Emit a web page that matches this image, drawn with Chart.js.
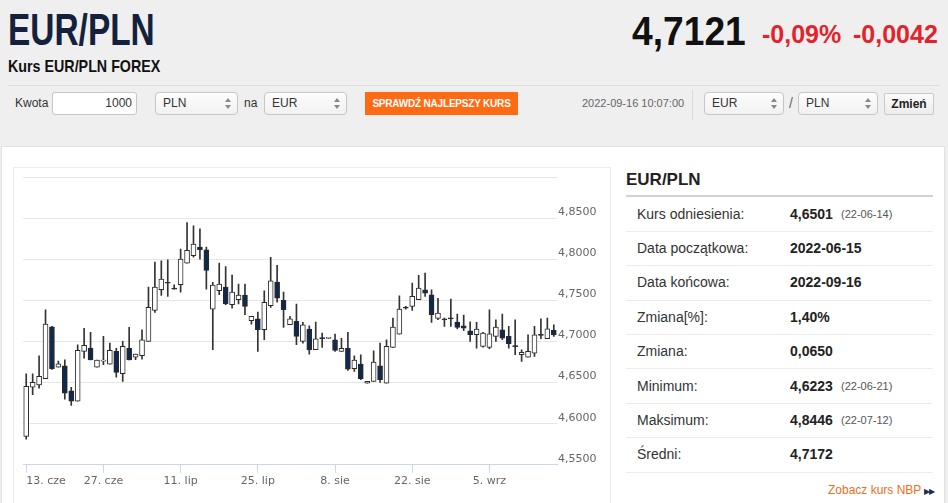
<!DOCTYPE html>
<html lang="pl">
<head>
<meta charset="UTF-8">
<title>EUR/PLN</title>
<script src="https://cdn.jsdelivr.net/npm/chart.js"></script>
<style>
    html, body { margin: 0; padding: 0; }
    body {
        width: 948px; height: 503px; overflow: hidden; position: relative;
        background: #efefef; color: #333;
        font-family: "Liberation Sans", Arial, sans-serif;
    }
    .abs { position: absolute; white-space: nowrap; }
    .cond { transform-origin: 0 50%; display: inline-block; }

    /* form row */
    .box { position: absolute; top: 92px; height: 23px; box-sizing: border-box; font-size: 12px; line-height: 21px; }
    .sel { border: 1px solid #c6c6c6; border-radius: 4px; background: linear-gradient(#fdfdfd, #f1f1f1); padding-left: 7px; }
    .sel .arr { position: absolute; right: 6px; top: 5px; width: 6px; height: 11px; }
    .sel .arr::before, .sel .arr::after { content: ''; position: absolute; left: 0; border-left: 3px solid transparent; border-right: 3px solid transparent; }
    .sel .arr::before { top: 0; border-bottom: 4px solid #888; }
    .sel .arr::after { top: 7px; border-top: 4px solid #888; }

    /* right table */
    .row { position: absolute; left: 626px; width: 307px; height: 34.4px; border-bottom: 1px solid #ececec; box-sizing: border-box; font-size: 14px; line-height: 33px; }
    .row .lab { position: absolute; left: 11px; color: #333; }
    .row .val { position: absolute; left: 164px; font-weight: bold; color: #222; }
    .row .dt { position: absolute; left: 215px; font-size: 11px; color: #555; }

    #chartBox { position: absolute; left: 14px; top: 168px; width: 596px; height: 335px; }
</style>
</head>
<body>
    <!-- header -->
    <div class="abs" style="left:8px;top:8px;font-size:44px;line-height:44px;font-weight:bold;color:#13213d;">
        <span class="cond" style="transform:scaleX(0.76)">EUR/PLN</span>
    </div>
    <div class="abs" style="left:8px;top:58px;font-size:17px;line-height:17px;font-weight:bold;color:#111;">
        <span class="cond" style="transform:scaleX(0.84)">Kurs EUR/PLN FOREX</span>
    </div>
    <div class="abs" style="left:632px;top:11px;font-size:40px;line-height:40px;font-weight:bold;color:#111;">
        <span class="cond" style="transform:scaleX(0.93)">4,7121</span>
    </div>
    <div class="abs" style="left:762px;top:22px;font-size:25px;line-height:25px;font-weight:bold;color:#e3232c;">-0,09%</div>
    <div class="abs" style="left:853px;top:22px;font-size:25px;line-height:25px;font-weight:bold;color:#e3232c;">-0,0042</div>
    <div class="abs" style="left:8px;top:85px;width:932px;height:1px;background:#dcdcdc;"></div>

    <!-- form row -->
    <div class="box" style="left:15px;line-height:23px;">Kwota</div>
    <div class="box" style="left:52px;width:85px;border:1px solid #c6c6c6;border-radius:3px;background:#fff;text-align:right;padding-right:4px;">1000</div>
    <div class="box sel" style="left:155px;width:83px;">PLN<span class="arr"></span></div>
    <div class="box" style="left:244px;line-height:23px;">na</div>
    <div class="box sel" style="left:264px;width:83px;">EUR<span class="arr"></span></div>
    <div class="box" style="left:365px;width:153px;background:#ff6a13;color:#fff;font-size:10px;font-weight:bold;text-align:center;line-height:23px;letter-spacing:-0.2px;">SPRAWDŹ NAJLEPSZY KURS</div>
    <div class="box" style="left:582px;font-size:11px;color:#666;line-height:23px;">2022-09-16 10:07:00</div>
    <div class="abs" style="left:692px;top:90px;width:1px;height:30px;background:#d8d8d8;"></div>
    <div class="box sel" style="left:704px;width:80px;">EUR<span class="arr"></span></div>
    <div class="box" style="left:789px;font-size:14px;color:#666;line-height:23px;">/</div>
    <div class="box sel" style="left:798px;width:80px;">PLN<span class="arr"></span></div>
    <div class="box" style="left:884px;top:93px;width:50px;height:22px;border:1px solid #c9c9c9;border-radius:2px;background:linear-gradient(#fbfbfb,#ececec);font-weight:bold;color:#222;text-align:center;line-height:20px;">Zmień</div>

    <!-- white panel -->
    <div class="abs" style="left:1px;top:146px;width:944px;height:400px;background:#fff;border:1px solid #e2e2e2;box-sizing:border-box;"></div>
    <div class="abs" style="left:13px;top:167px;width:598px;height:400px;border:1px solid #ececec;box-sizing:border-box;"></div>

    <div id="chartBox"><canvas id="candles"></canvas></div>

    <!-- right table -->
    <div class="abs" style="left:626px;top:171px;font-size:17px;line-height:17px;font-weight:bold;color:#222;">EUR/PLN</div>
    <div class="abs" style="left:626px;top:195px;width:307px;height:2px;background:#d2d2d2;"></div>
    <div class="row" style="top:197.5px;"><span class="lab">Kurs odniesienia:</span><span class="val">4,6501</span><span class="dt">(22-06-14)</span></div>
    <div class="row" style="top:231.9px;"><span class="lab">Data początkowa:</span><span class="val">2022-06-15</span></div>
    <div class="row" style="top:266.3px;"><span class="lab">Data końcowa:</span><span class="val">2022-09-16</span></div>
    <div class="row" style="top:300.7px;"><span class="lab">Zmiana[%]:</span><span class="val">1,40%</span></div>
    <div class="row" style="top:335.1px;"><span class="lab">Zmiana:</span><span class="val">0,0650</span></div>
    <div class="row" style="top:369.5px;"><span class="lab">Minimum:</span><span class="val">4,6223</span><span class="dt">(22-06-21)</span></div>
    <div class="row" style="top:403.9px;"><span class="lab">Maksimum:</span><span class="val">4,8446</span><span class="dt">(22-07-12)</span></div>
    <div class="row" style="top:438.3px;"><span class="lab">Średni:</span><span class="val">4,7172</span></div>
    <div class="abs" style="left:828px;top:483px;font-size:12px;line-height:14px;color:#f26c22;">Zobacz kurs NBP <span style="font-size:8px;color:#1b2b4b;letter-spacing:-1px;">▶▶</span></div>

<script>
    // x axis: one candle per day, a label every two weeks
    var tickLabels = ['13. cze', '27. cze', '11. lip', '25. lip', '8. sie', '22. sie', '5. wrz'];
    var tickStep = 12;

    // daily OHLC
    var opens = [
        4.5844, 4.6445, 4.6470, 4.6547, 4.7179, 4.6688, 4.6705, 4.6401, 4.6275, 4.6879,
        4.6919, 4.6688, 4.6761, 4.6725, 4.6879, 4.6607, 4.6919, 4.6810, 4.6826, 4.7001,
        4.7377, 4.7629, 4.7712, 4.7649, 4.7690, 4.7953, 4.8042, 4.8148, 4.8115, 4.7394,
        4.7617, 4.7661, 4.7446, 4.7507, 4.7564, 4.7252, 4.7276, 4.7142, 4.7434, 4.7722,
        4.7499, 4.7203, 4.7244, 4.7001, 4.7151, 4.6899, 4.7039, 4.7037, 4.7021, 4.6879,
        4.6915, 4.6668, 4.6725, 4.6494, 4.6514, 4.6705, 4.6494, 4.6928, 4.7090, 4.7418,
        4.7426, 4.7507, 4.7629, 4.7568, 4.7280, 4.7276, 4.7278, 4.7236, 4.7191, 4.7130,
        4.7082, 4.6940, 4.6928, 4.7061, 4.7142, 4.7061, 4.6942, 4.6838, 4.6810, 4.6859,
        4.7076, 4.7033, 4.7134
    ];
    var highs = [
        4.6607, 4.6607, 4.6826, 4.7386, 4.7185, 4.6761, 4.6778, 4.6441, 4.6960, 4.7159,
        4.7110, 4.6774, 4.7061, 4.6980, 4.6915, 4.7001, 4.7171, 4.6846, 4.7142, 4.7661,
        4.7965, 4.7981, 4.7994, 4.7690, 4.8123, 4.8446, 4.8407, 4.8370, 4.8148, 4.7718,
        4.7953, 4.7912, 4.7807, 4.7698, 4.7698, 4.7305, 4.7357, 4.7617, 4.8022, 4.7925,
        4.7600, 4.7305, 4.7454, 4.7232, 4.7191, 4.7236, 4.7102, 4.7040, 4.7090, 4.7037,
        4.7110, 4.6826, 4.6838, 4.6514, 4.6887, 4.6980, 4.7021, 4.7284, 4.7556, 4.7426,
        4.7710, 4.7803, 4.7831, 4.7629, 4.7523, 4.7284, 4.7515, 4.7333, 4.7321, 4.7240,
        4.7232, 4.7110, 4.7386, 4.7264, 4.7333, 4.7183, 4.7264, 4.6899, 4.7082, 4.7183,
        4.7276, 4.7284, 4.7203
    ];
    var lows = [
        4.5813, 4.6352, 4.6433, 4.6547, 4.6660, 4.6688, 4.6299, 4.6223, 4.6275, 4.6798,
        4.6774, 4.6688, 4.6717, 4.6725, 4.6567, 4.6514, 4.6774, 4.6778, 4.6786, 4.7001,
        4.7353, 4.7560, 4.7548, 4.7637, 4.7600, 4.7953, 4.8026, 4.8002, 4.7637, 4.6899,
        4.7568, 4.7446, 4.7406, 4.7458, 4.7325, 4.7211, 4.6879, 4.7021, 4.7414, 4.7479,
        4.7171, 4.7203, 4.6960, 4.6980, 4.6846, 4.6899, 4.6928, 4.7034, 4.6879, 4.6879,
        4.6648, 4.6636, 4.6534, 4.6494, 4.6514, 4.6502, 4.6494, 4.6928, 4.7090, 4.7394,
        4.7377, 4.7507, 4.7548, 4.7232, 4.7264, 4.7183, 4.7183, 4.7151, 4.7130, 4.7001,
        4.6919, 4.6932, 4.6911, 4.7001, 4.7021, 4.6919, 4.6838, 4.6757, 4.6810, 4.6818,
        4.7033, 4.7033, 4.7061
    ];
    var closes = [
        4.6453, 4.6502, 4.6575, 4.7211, 4.6668, 4.6729, 4.6372, 4.6275, 4.6891, 4.6952,
        4.6774, 4.6774, 4.6765, 4.6891, 4.6624, 4.6940, 4.6774, 4.6846, 4.7021, 4.7414,
        4.7661, 4.7758, 4.7708, 4.7637, 4.8002, 4.8107, 4.8184, 4.8115, 4.7864, 4.7685,
        4.7698, 4.7458, 4.7600, 4.7564, 4.7426, 4.7305, 4.7142, 4.7475, 4.7738, 4.7527,
        4.7386, 4.7276, 4.7061, 4.7203, 4.6899, 4.7033, 4.7035, 4.7037, 4.6891, 4.6915,
        4.6664, 4.6774, 4.6547, 4.6514, 4.6749, 4.6534, 4.6940, 4.7175, 4.7394, 4.7406,
        4.7548, 4.7649, 4.7588, 4.7325, 4.7345, 4.7264, 4.7274, 4.7171, 4.7163, 4.7082,
        4.7151, 4.7102, 4.7094, 4.7175, 4.7041, 4.6972, 4.6938, 4.6867, 4.6879, 4.7082,
        4.7074, 4.7155, 4.7078
    ];

    var upColor = '#ffffff';
    var downColor = '#10294a';

    var categories = opens.map(function (o, i) {
        return i % tickStep === 0 ? tickLabels[i / tickStep] : '';
    });

    var ctx = document.getElementById('candles').getContext('2d');
    var candleChart = new Chart(ctx, {
        type: 'bar',
        data: {
            labels: categories,
            datasets: [{
                // candle bodies, open -> close
                label: 'body',
                data: opens.map(function (o, i) { return [o, closes[i]]; }),
                backgroundColor: opens.map(function (o, i) { return closes[i] >= o ? upColor : downColor; }),
                borderColor: '#2a2a2a',
                borderWidth: 1,
                borderSkipped: false,
                barThickness: 5,
                minBarLength: 1,
                grouped: false,
                order: 0
            }, {
                // wicks, low -> high
                label: 'wick',
                data: lows.map(function (l, i) { return [l, highs[i]]; }),
                backgroundColor: '#333333',
                borderWidth: 0,
                barThickness: 1,
                grouped: false,
                order: 1
            }]
        },
        options: {
            responsive: true,
            maintainAspectRatio: false,
            animation: false,
            layout: { padding: { left: 9, top: 9, right: 0, bottom: 13 } },
            plugins: {
                legend: { display: false },
                tooltip: { enabled: false }
            },
            scales: {
                x: {
                    offset: true,
                    grid: {
                        offset: false,
                        drawOnChartArea: false,
                        tickLength: 8,
                        color: function (c) { return c.index % tickStep === 0 ? '#ccd6eb' : 'rgba(0,0,0,0)'; }
                    },
                    border: { color: '#ccd6eb' },
                    ticks: {
                        autoSkip: false,
                        maxRotation: 0,
                        align: 'inner',
                        padding: 2,
                        color: '#666',
                        font: { family: 'DejaVu Sans', size: 11 }
                    }
                },
                y: {
                    position: 'right',
                    min: 4.55,
                    max: 4.9,
                    grid: { color: '#e6e6e6', drawTicks: false, tickLength: 0 },
                    border: { display: false },
                    ticks: {
                        stepSize: 0.05,
                        padding: 1,
                        labelOffset: -6,
                        color: '#666',
                        font: { family: 'DejaVu Sans', size: 11 },
                        callback: function (v) {
                            if (v > 4.89) return '';  // top line has no label
                            return v.toFixed(4).replace('.', ',');
                        }
                    },
                    afterFit: function (scale) { scale.width = 53; }
                }
            }
        }
    });
</script>
</body>
</html>
